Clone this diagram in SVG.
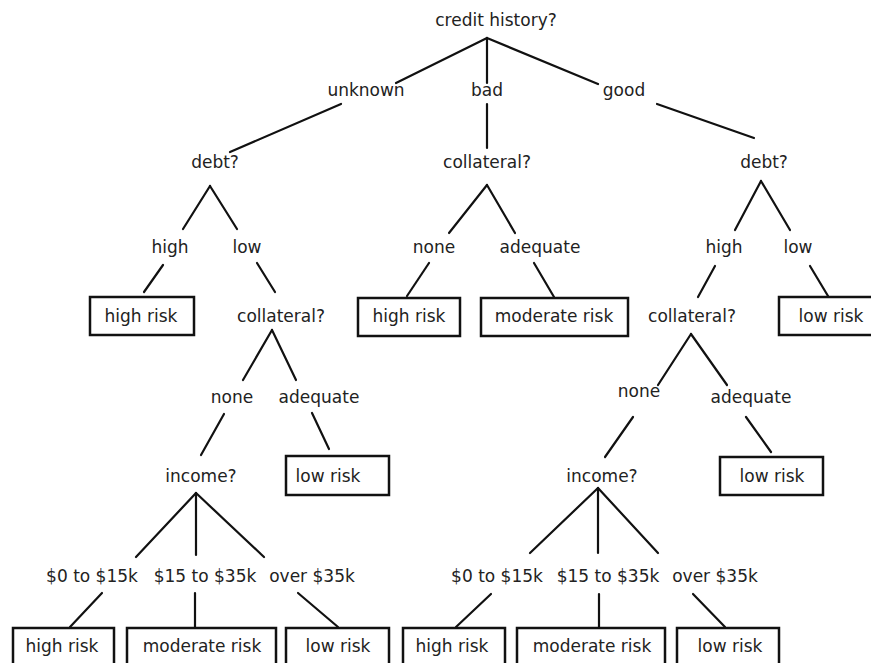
<svg xmlns="http://www.w3.org/2000/svg" width="871" height="663" viewBox="0 0 871 663">
<style>
text{font-family:"DejaVu Sans","Liberation Sans",sans-serif;font-size:17px;fill:#222;text-anchor:middle}
.box{fill:#fff;stroke:#111;stroke-width:2.5}
#edges line{stroke:#111;stroke-width:2.2;stroke-linecap:round}
</style>
<rect width="871" height="663" fill="#fff"/>
<g id="edges">
<line x1="487" y1="38" x2="396" y2="83"/>
<line x1="487" y1="38" x2="487" y2="83"/>
<line x1="487" y1="38" x2="598" y2="84"/>
<line x1="341" y1="104" x2="230" y2="152"/>
<line x1="487" y1="104" x2="487" y2="148"/>
<line x1="657" y1="104" x2="754" y2="138"/>
<line x1="210" y1="186" x2="183" y2="229"/>
<line x1="210" y1="186" x2="237" y2="229"/>
<line x1="163" y1="265" x2="144" y2="292"/>
<line x1="257" y1="263" x2="275" y2="292"/>
<line x1="272" y1="330" x2="243" y2="380"/>
<line x1="272" y1="330" x2="296" y2="380"/>
<line x1="224" y1="414" x2="201" y2="455"/>
<line x1="312" y1="413" x2="329" y2="449"/>
<line x1="196" y1="493" x2="136" y2="557"/>
<line x1="196" y1="493" x2="196" y2="555"/>
<line x1="196" y1="493" x2="264" y2="557"/>
<line x1="102" y1="593" x2="70" y2="627"/>
<line x1="195" y1="593" x2="195" y2="627"/>
<line x1="298" y1="593" x2="338" y2="627"/>
<line x1="487" y1="185" x2="449" y2="233"/>
<line x1="487" y1="185" x2="515" y2="233"/>
<line x1="429" y1="263" x2="407" y2="296"/>
<line x1="534" y1="263" x2="554" y2="297"/>
<line x1="761" y1="181" x2="735" y2="230"/>
<line x1="761" y1="181" x2="790" y2="230"/>
<line x1="715" y1="266" x2="698" y2="297"/>
<line x1="810" y1="266" x2="828" y2="296"/>
<line x1="691" y1="334" x2="658" y2="385"/>
<line x1="691" y1="334" x2="727" y2="385"/>
<line x1="633" y1="417" x2="605" y2="457"/>
<line x1="746" y1="417" x2="771" y2="452"/>
<line x1="598" y1="488" x2="530" y2="553"/>
<line x1="598" y1="488" x2="598" y2="553"/>
<line x1="598" y1="488" x2="658" y2="553"/>
<line x1="491" y1="594" x2="456" y2="627"/>
<line x1="599" y1="594" x2="599" y2="627"/>
<line x1="693" y1="594" x2="725" y2="627"/>
</g>
<g id="credit"><text x="496" y="26">credit history?</text></g>
<g id="unknown"><text x="366" y="96">unknown</text></g>
<g id="bad"><text x="487" y="96">bad</text></g>
<g id="good"><text x="624" y="96">good</text></g>
<g id="debt1"><text x="215" y="168">debt?</text></g>
<g id="coll1"><text x="487" y="168">collateral?</text></g>
<g id="debt2"><text x="764" y="168">debt?</text></g>
<g id="high1"><text x="170" y="253">high</text></g>
<g id="low1"><text x="247" y="253">low</text></g>
<g id="none1"><text x="434" y="253">none</text></g>
<g id="adeq1"><text x="540" y="253">adequate</text></g>
<g id="high2"><text x="724" y="253">high</text></g>
<g id="low2"><text x="798" y="253">low</text></g>
<g id="r1"><rect class="box" x="90" y="297" width="104" height="38"/><text x="141" y="322">high risk</text></g>
<g id="coll2"><text x="281" y="322">collateral?</text></g>
<g id="r2"><rect class="box" x="358" y="298" width="102" height="38"/><text x="409" y="322">high risk</text></g>
<g id="r3"><rect class="box" x="481" y="298" width="147" height="38"/><text x="554" y="322">moderate risk</text></g>
<g id="coll3"><text x="692" y="322">collateral?</text></g>
<g id="r4"><rect class="box" x="779" y="297" width="96" height="38"/><text x="831" y="322">low risk</text></g>
<g id="none2"><text x="232" y="403">none</text></g>
<g id="adeq2"><text x="319" y="403">adequate</text></g>
<g id="none3"><text x="639" y="397">none</text></g>
<g id="adeq3"><text x="751" y="403">adequate</text></g>
<g id="inc1"><text x="201" y="482">income?</text></g>
<g id="r5"><rect class="box" x="286" y="456" width="103" height="39"/><text x="328" y="482">low risk</text></g>
<g id="inc2"><text x="602" y="482">income?</text></g>
<g id="r6"><rect class="box" x="720" y="457" width="103" height="38"/><text x="772" y="482">low risk</text></g>
<g id="i1"><text x="92" y="582">$0 to $15k</text></g>
<g id="i2"><text x="205" y="582">$15 to $35k</text></g>
<g id="i3"><text x="312" y="582">over $35k</text></g>
<g id="i4"><text x="497" y="582">$0 to $15k</text></g>
<g id="i5"><text x="608" y="582">$15 to $35k</text></g>
<g id="i6"><text x="715" y="582">over $35k</text></g>
<g id="b1"><rect class="box" x="13" y="628" width="101" height="44"/><text x="62" y="652">high risk</text></g>
<g id="b2"><rect class="box" x="127" y="628" width="149" height="44"/><text x="202" y="652">moderate risk</text></g>
<g id="b3"><rect class="box" x="286" y="628" width="103" height="44"/><text x="338" y="652">low risk</text></g>
<g id="b4"><rect class="box" x="403" y="628" width="102" height="44"/><text x="452" y="652">high risk</text></g>
<g id="b5"><rect class="box" x="517" y="628" width="148" height="44"/><text x="592" y="652">moderate risk</text></g>
<g id="b6"><rect class="box" x="677" y="628" width="102" height="44"/><text x="730" y="652">low risk</text></g>
</svg>
